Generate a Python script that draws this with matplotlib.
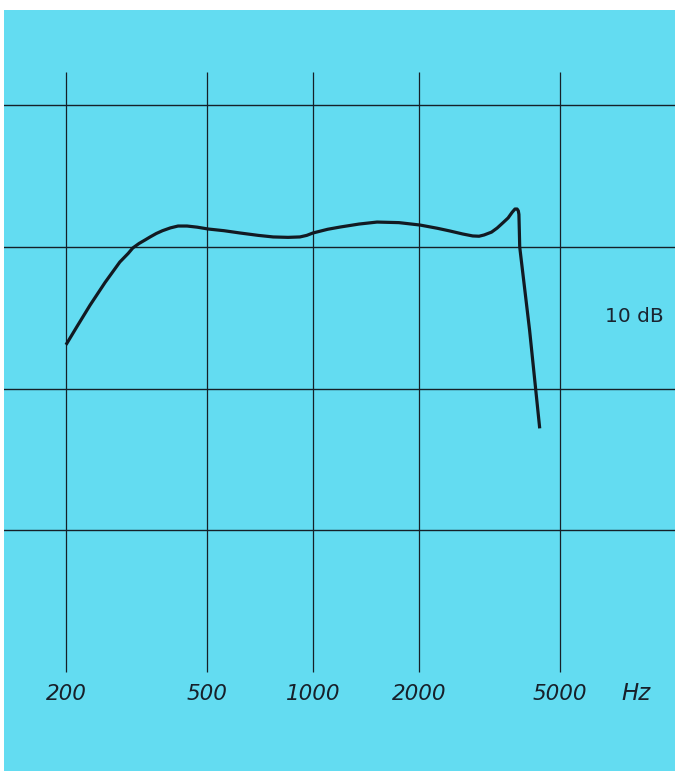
import numpy as np
import matplotlib
matplotlib.use("Agg")
import matplotlib.pyplot as plt

# Data (frequency in Hz, level in dB relative to the 0 dB grid line)
freq_hz = [200, 215, 234, 258, 284, 300, 309, 322, 335, 346, 360, 375, 395, 415, 440,
           470, 505, 560, 621, 700, 771, 850, 918, 960, 1000, 1100, 1194, 1350, 1518,
           1750, 2008, 2250, 2440, 2650, 2830, 2950, 3050, 3200, 3320, 3450, 3565,
           3660, 3728, 3780, 3810, 3825, 3835, 3845, 4100, 4380]
level_db = [-6.9, -5.6, -4.1, -2.5, -1.06, -0.45, -0.07, 0.25, 0.5, 0.71, 0.95, 1.15,
            1.35, 1.48, 1.48, 1.4, 1.27, 1.15, 0.99, 0.82, 0.71, 0.68, 0.71, 0.82, 0.99,
            1.25, 1.41, 1.62, 1.76, 1.72, 1.55, 1.32, 1.13, 0.92, 0.78, 0.76, 0.85,
            1.05, 1.34, 1.72, 2.05, 2.45, 2.68, 2.68, 2.55, 2.3, 1.2, 0.0, -5.86, -12.8]

grid_freqs = [200, 500, 1000, 2000, 5000]
grid_labels = ["200", "500", "1000", "2000", "5000"]
grid_db = [10, 0, -10, -20]

W, H = 675, 774
fig = plt.figure(figsize=(W / 100, H / 100), dpi=100, facecolor="white")

cyan = "#63dcf1"
# axes spanning the cyan panel: x pixels 4..675, y pixels 10..771
ax = fig.add_axes([4 / W, 3 / H, (W - 4) / W, (H - 13) / H])
ax.set_facecolor(cyan)
for s in ax.spines.values():
    s.set_visible(False)
ax.set_xscale("log")

px_per_dec = 353.4
x0_px = 66.0
def px_to_f(px):
    return 200 * 10 ** ((px - x0_px) / px_per_dec)

px_per_db = 14.17
y0_px = 247.0
def py_to_db(py):
    return (y0_px - py) / px_per_db

ax.set_xlim(px_to_f(4), px_to_f(675))
ax.set_ylim(py_to_db(771), py_to_db(10))
ax.set_xticks([])
ax.set_yticks([])
ax.minorticks_off()

line_col = "#152028"
for d in grid_db:
    ax.axhline(d, color=line_col, lw=1.0, zorder=1)
ax.vlines(grid_freqs, py_to_db(672), py_to_db(72), color=line_col, lw=0.9, zorder=1)

ax.plot(freq_hz, level_db, color="#121a22", lw=2.3, solid_joinstyle="round",
        solid_capstyle="butt", zorder=3)

for f, lab in zip(grid_freqs, grid_labels):
    ax.text(f, py_to_db(694), lab, ha="center", va="center", fontsize=15.5,
            style="italic", family="DejaVu Sans", color="#17202a")
ax.text(px_to_f(636), py_to_db(694), "Hz", ha="center", va="center", fontsize=16.5,
        style="italic", family="DejaVu Sans", color="#17202a")
ax.text(px_to_f(634), py_to_db(317), "10 dB", ha="center", va="center",
        fontsize=14.5, family="DejaVu Sans", color="#1a2430")

fig.savefig("out.png", dpi=100, facecolor="white")
